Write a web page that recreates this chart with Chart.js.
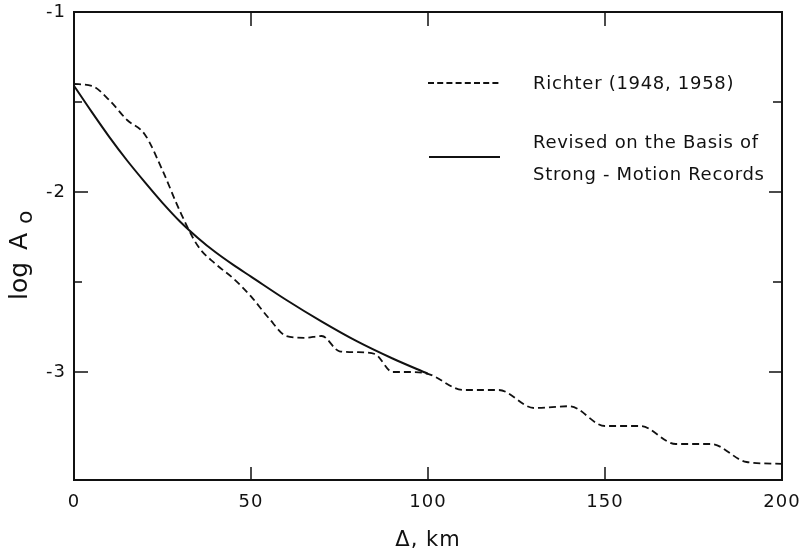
<!DOCTYPE html>
<html>
<head>
<meta charset="utf-8">
<script src="https://cdn.jsdelivr.net/npm/chart.js@4"></script>
<style>
  html, body { margin: 0; padding: 0; background: #fff; }
  #wrap { width: 808px; height: 557px; position: relative; }
</style>
</head>
<body>
<div id="wrap"><canvas id="c"></canvas></div>
<script>
/* log A0 vs epicentral distance: Richter's table against the strong-motion revision */

// Richter (1948, 1958) - dashed
const richterKm = [0, 5, 10, 15, 20, 25, 30, 35, 40, 45, 50, 55, 60, 65, 70, 75, 80, 85, 90, 95, 100,
                   110, 120, 130, 140, 150, 160, 170, 180, 190, 200];
const richterLogA0 = [-1.40, -1.41, -1.49, -1.60, -1.68, -1.88, -2.11, -2.30, -2.40, -2.48, -2.58, -2.70, -2.80, -2.81, -2.80, -2.885, -2.89, -2.90, -3.00, -3.00, -3.01,
                      -3.10, -3.10, -3.20, -3.19, -3.30, -3.30, -3.40, -3.40, -3.50, -3.51];

// Revised on the basis of strong-motion records - solid
const revisedKm = [0, 5, 10, 15, 20, 25, 30, 35, 40, 45, 50, 60, 70, 80, 90, 100];
const revisedLogA0 = [-1.41, -1.555, -1.695, -1.825, -1.945, -2.06, -2.165, -2.255, -2.335, -2.405, -2.47, -2.60, -2.72, -2.83, -2.925, -3.01];

const xTicks = [50, 100, 150];
const yMajor = [-2, -3];
const yMinor = [-1.5, -2.5];

const INK = "#111";
const FONT = "'DejaVu Sans', sans-serif";

const pts = (xs, ys) => xs.map((x, i) => ({ x, y: ys[i] }));

// frame, inward ticks, y title with subscript, hand-placed legend
const decor = {
  id: "decor",
  beforeDraw(chart) { chart.ctx.letterSpacing = "1px"; },
  afterDraw(chart) {
    const { ctx, chartArea: a, scales: { x, y } } = chart;
    ctx.save();
    ctx.letterSpacing = "0px";
    ctx.strokeStyle = INK;
    ctx.lineWidth = 2;
    ctx.strokeRect(a.left, a.top, a.right - a.left, a.bottom - a.top);

    ctx.lineWidth = 1.5;
    ctx.beginPath();
    xTicks.forEach(v => {
      const px = x.getPixelForValue(v);
      ctx.moveTo(px, a.bottom); ctx.lineTo(px, a.bottom - 13);
      ctx.moveTo(px, a.top); ctx.lineTo(px, a.top + 14);
    });
    yMajor.forEach(v => {
      const py = y.getPixelForValue(v);
      ctx.moveTo(a.left, py); ctx.lineTo(a.left + 14, py);
      ctx.moveTo(a.right, py); ctx.lineTo(a.right - 13, py);
    });
    yMinor.forEach(v => {
      const py = y.getPixelForValue(v);
      ctx.moveTo(a.left, py); ctx.lineTo(a.left + 8, py);
      ctx.moveTo(a.right, py); ctx.lineTo(a.right - 9, py);
    });
    ctx.stroke();

    // y title: log A with subscript o, reading bottom to top
    ctx.fillStyle = INK;
    ctx.translate(27, 300);
    ctx.rotate(-Math.PI / 2);
    ctx.textBaseline = "alphabetic";
    ctx.textAlign = "left";
    ctx.font = "25px " + FONT;
    ctx.fillText("log", 0, 0);
    ctx.fillText("A", 50, 0);
    ctx.font = "22px " + FONT;
    ctx.fillText("o", 76, 5);
    ctx.restore();

    // legend
    ctx.save();
    ctx.letterSpacing = "0.7px";
    ctx.strokeStyle = INK;
    ctx.lineWidth = 1.8;
    ctx.setLineDash([6, 3.2]);
    ctx.beginPath(); ctx.moveTo(428, 83); ctx.lineTo(500, 83); ctx.stroke();
    ctx.setLineDash([]);
    ctx.beginPath(); ctx.moveTo(429, 157); ctx.lineTo(500, 157); ctx.stroke();
    ctx.fillStyle = INK;
    ctx.font = "18px " + FONT;
    ctx.textBaseline = "middle";
    ctx.textAlign = "left";
    ctx.fillText("Richter (1948, 1958)", 533, 84);
    ctx.fillText("Revised on the Basis of", 533, 143);
    ctx.fillText("Strong - Motion Records", 533, 175);
    ctx.restore();
  },
};

new Chart(document.getElementById("c"), {
  type: "line",
  data: {
    datasets: [
      { label: "Richter (1948, 1958)", data: pts(richterKm, richterLogA0),
        borderColor: INK, borderWidth: 1.8, borderDash: [7, 4], pointRadius: 0,
        cubicInterpolationMode: "monotone", fill: false },
      { label: "Revised on the Basis of Strong-Motion Records", data: pts(revisedKm, revisedLogA0),
        borderColor: INK, borderWidth: 2, pointRadius: 0,
        cubicInterpolationMode: "monotone", fill: false },
    ],
  },
  options: {
    responsive: true, maintainAspectRatio: false, animation: false,
    layout: { autoPadding: false, padding: { top: 12, right: 26, left: 0, bottom: 0 } },
    plugins: { legend: { display: false }, tooltip: { enabled: false } },
    scales: {
      x: {
        type: "linear", min: 0, max: 200,
        grid: { display: false }, border: { display: false },
        ticks: { stepSize: 50, color: INK, font: { family: FONT, size: 18 }, padding: 4 },
        title: { display: true, text: "Δ, km", color: INK, font: { family: FONT, size: 21 }, padding: { top: 16 } },
        afterFit(s) { s.height = 77; },
      },
      y: {
        type: "linear", min: -3.6, max: -1,
        grid: { display: false }, border: { display: false },
        ticks: { stepSize: 0.5, color: INK, font: { family: FONT, size: 18 }, padding: 0,
          callback: v => Math.abs(v - Math.round(v)) < 1e-6 ? String(Math.round(v)) : "" },
        afterFit(s) { s.width = 74; },
      },
    },
  },
  plugins: [decor],
});
</script>
</body>
</html>
